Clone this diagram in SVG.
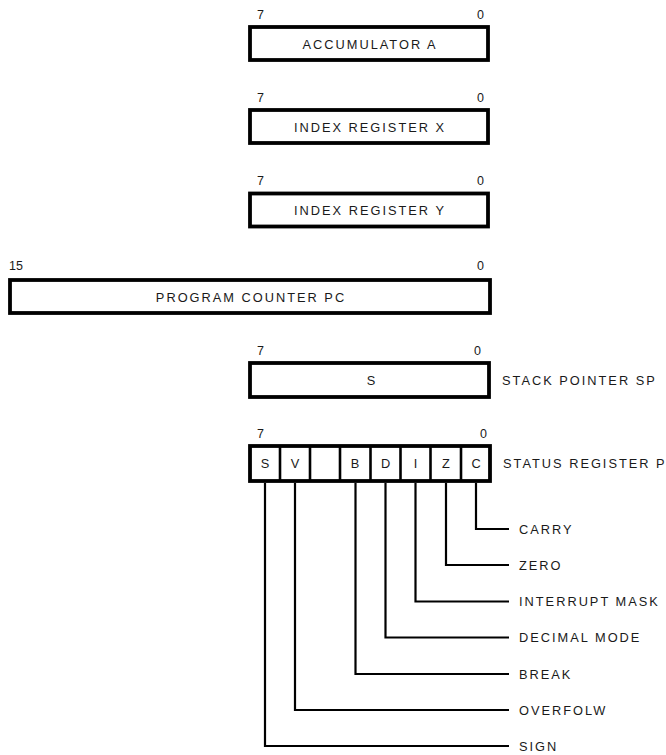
<svg xmlns="http://www.w3.org/2000/svg" width="666" height="755" viewBox="0 0 666 755">
<style>
.box{fill:#fff;stroke:#000;stroke-width:3.8}
.div{stroke:#000;stroke-width:2.6}
.t{font-family:"Liberation Sans",Arial,sans-serif;font-size:12.8px;letter-spacing:2px;fill:#1a1a1a}
.m{text-anchor:middle}
.n{font-family:"Liberation Sans",Arial,sans-serif;font-size:12.5px;fill:#1a1a1a}
.e{text-anchor:end}
.c{fill:none;stroke:#000;stroke-width:2.2}
</style>
<rect width="666" height="755" fill="#fff"/>
<g id="acc">
<text class="n" x="257" y="18.5">7</text>
<text class="n e" x="484" y="18.5">0</text>
<rect class="box" x="250" y="27" width="238" height="33"/>
<text class="t m" x="370" y="48.5">ACCUMULATOR A</text>
</g>
<g id="regx">
<text class="n" x="257" y="101.5">7</text>
<text class="n e" x="484" y="101.5">0</text>
<rect class="box" x="250" y="110" width="238" height="33"/>
<text class="t m" x="370" y="131.5">INDEX REGISTER X</text>
</g>
<g id="regy">
<text class="n" x="257" y="185">7</text>
<text class="n e" x="484" y="185">0</text>
<rect class="box" x="250" y="193.5" width="238" height="33"/>
<text class="t m" x="370" y="215">INDEX REGISTER Y</text>
</g>
<g id="pc">
<text class="n" x="9" y="270">15</text>
<text class="n e" x="484" y="270">0</text>
<rect class="box" x="10" y="280" width="480" height="33"/>
<text class="t m" x="251" y="301.5">PROGRAM COUNTER PC</text>
</g>
<g id="sp">
<text class="n" x="257" y="355">7</text>
<text class="n e" x="481" y="355">0</text>
<rect class="box" x="250" y="363" width="239" height="34"/>
<text class="t m" x="372" y="385">S</text>
<text class="t" x="502" y="385">STACK POINTER SP</text>
</g>
<g id="status">
<text class="n" x="257" y="438">7</text>
<text class="n e" x="487" y="438">0</text>
<rect class="box" x="250" y="446" width="240" height="35"/>
<line class="div" x1="280" y1="445" x2="280" y2="482"/>
<line class="div" x1="310" y1="445" x2="310" y2="482"/>
<line class="div" x1="340" y1="445" x2="340" y2="482"/>
<line class="div" x1="370.5" y1="445" x2="370.5" y2="482"/>
<line class="div" x1="400.5" y1="445" x2="400.5" y2="482"/>
<line class="div" x1="430.5" y1="445" x2="430.5" y2="482"/>
<line class="div" x1="461" y1="445" x2="461" y2="482"/>
<text class="t m" x="266" y="468">S</text>
<text class="t m" x="296" y="468">V</text>
<text class="t m" x="356" y="468">B</text>
<text class="t m" x="386.5" y="468">D</text>
<text class="t m" x="416.5" y="468">I</text>
<text class="t m" x="447" y="468">Z</text>
<text class="t m" x="477" y="468">C</text>
<text class="t" x="503" y="468">STATUS REGISTER P</text>
</g>
<g id="connectors">
<polyline class="c" points="476,483 476,529 509,529"/>
<polyline class="c" points="446,483 446,565 509,565"/>
<polyline class="c" points="415.5,483 415.5,601.5 509,601.5"/>
<polyline class="c" points="385.5,483 385.5,637.5 509,637.5"/>
<polyline class="c" points="355.5,483 355.5,674 509,674"/>
<polyline class="c" points="295,483 295,710 509,710"/>
<polyline class="c" points="265,483 265,746 509,746"/>
</g>
<g id="flags">
<text class="t" x="519" y="533.5">CARRY</text>
<text class="t" x="519" y="569.5">ZERO</text>
<text class="t" x="519" y="606">INTERRUPT MASK</text>
<text class="t" x="519" y="642">DECIMAL MODE</text>
<text class="t" x="519" y="678.5">BREAK</text>
<text class="t" x="519" y="714.5">OVERFOLW</text>
<text class="t" x="519" y="750.5">SIGN</text>
</g>
</svg>
